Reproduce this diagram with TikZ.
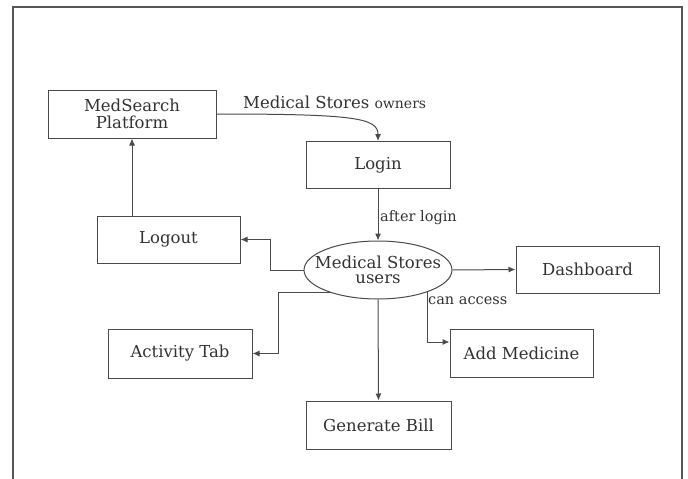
\documentclass[tikz,border=0pt]{standalone}
\usepackage{fontspec}
\setmainfont{DejaVu Serif}
\usetikzlibrary{arrows.meta,shapes.geometric,calc}
\definecolor{ink}{HTML}{333333}
\definecolor{edge}{HTML}{4A4A4A}
\definecolor{frame}{HTML}{555555}
\tikzset{
  box/.style={draw=edge, line width=1pt, rectangle, minimum width=144pt, minimum height=47pt, inner sep=0pt,
    text=ink, font=\fontsize{16.5}{17}\selectfont, align=center},
  oval/.style={draw=edge, line width=1pt, ellipse, minimum width=148pt, minimum height=58pt, inner sep=0pt},
  ovaltext/.style={text=ink, font=\fontsize{16.5}{15}\selectfont, align=center, inner sep=0pt},
  conn/.style={draw=edge, line width=1pt, -{Latex[length=7pt,width=6pt]}},
  lbl/.style={text=ink, font=\fontsize{14.5}{15}\selectfont, inner sep=0pt},
}
\begin{document}
\begin{tikzpicture}[x=1pt,y=-1pt]
\useasboundingbox (0,0) rectangle (688,479);
\fill[white] (0,0) rectangle (688,479);
\draw[frame, line width=1.6pt] (13,479) -- (13,7) -- (682,7) -- (682,479);

\node[box, minimum width=168pt, minimum height=48pt] (med) at (132,114) {MedSearch\\Platform};
\node[box] (login) at (378,165) {Login};
\node[box, minimum width=143pt] (logout) at (168.5,239.5) {Logout};
\node[oval] (users) at (378,270) {};
\node[ovaltext] (userstext) at (users.center) {Medical Stores\\users};
\node[box, minimum width=143pt] (dash) at (587.5,269.5) {Dashboard};
\node[box, minimum width=143pt, minimum height=48pt] (addmed) at (521.5,353) {Add Medicine};
\node[box, minimum height=49pt] (act) at (180,353.5) {Activity Tab};
\node[box, minimum width=145pt, minimum height=48pt] (bill) at (378.5,425) {Generate Bill};

\node[lbl, anchor=base west] (ownlbl) at (243,108) {\fontsize{16.5}{17}\selectfont Medical Stores \fontsize{14}{15}\selectfont owners};
\node[lbl, anchor=base west] (afterlbl) at (380,221) {after login};
\node[lbl, anchor=base west] (canlbl) at (428,304) {can access};

\draw[conn] (med.east) .. controls (355,114) and (378,118) .. (login.north);
\draw[conn] (login.south) -- (users.north);
\coordinate (lbend) at (270,270);
\draw[conn] (users.west) -- (lbend) |- (logout.east);
\draw[conn] (med.south |- logout.north) -- (med.south);
\draw[conn] (users.east) -- (dash.west);
\draw[conn] (users.-24) |- ([yshift=11pt]addmed.west);
\draw[conn] (users.205) -- ++(-51,0) |- (act.east);
\draw[conn] (users.south) -- (bill.north);
\end{tikzpicture}
\end{document}
